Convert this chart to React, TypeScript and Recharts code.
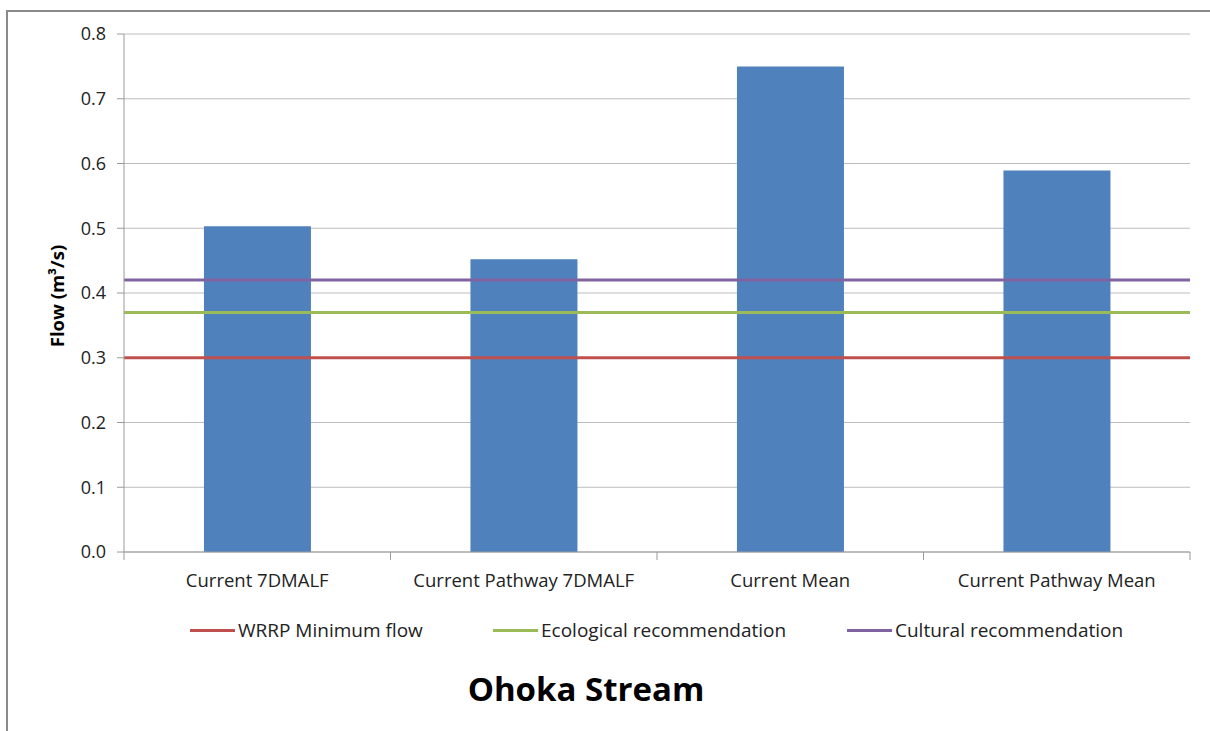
import React from "react";
import { ComposedChart, Bar, XAxis, YAxis, CartesianGrid, ReferenceLine, Label } from "recharts";

const categories = ["Current 7DMALF", "Current Pathway 7DMALF", "Current Mean", "Current Pathway Mean"];
const flows = [0.503, 0.452, 0.75, 0.589];
const yTicks = [0, 0.1, 0.2, 0.3, 0.4, 0.5, 0.6, 0.7, 0.8];

const thresholdNames = ["WRRP Minimum flow", "Ecological recommendation", "Cultural recommendation"];
const thresholdValues = [0.3, 0.37, 0.42];
const thresholdColors = ["#C0504D", "#9BBB59", "#8064A2"];

const data = categories.map((name, i) => ({ name, flow: flows[i] }));

const FONT = "'Open Sans', 'Noto Sans', sans-serif";
const CHART_W = 1210;
const CHART_H = 600;
const MARGIN = { top: 34, right: 20, left: 0, bottom: 0 };
const Y_AXIS_W = 124;
const BAND = (CHART_W - MARGIN.right - Y_AXIS_W) / categories.length;

const CategoryTick = (props: any) => {
  const { x, y, payload, index } = props;
  const last = index === categories.length - 1;
  return (
    <g>
      <line x1={x - BAND / 2} x2={x - BAND / 2} y1={y} y2={y + 8} stroke="#9a9a9a" />
      {last && <line x1={x + BAND / 2} x2={x + BAND / 2} y1={y} y2={y + 8} stroke="#9a9a9a" />}
      <text x={x} y={y + 35} textAnchor="middle" fill="#222" fontSize={18.5} fontFamily={FONT}>
        {payload.value}
      </text>
    </g>
  );
};

const App: React.FC = () => {
  return (
    <div style={{ position: "absolute", left: 0, top: 0, width: 1210, height: 731, overflow: "hidden", background: "#fff" }}>
      <div
        style={{
          position: "absolute",
          left: 6,
          top: 10,
          width: 1220,
          height: 740,
          borderTop: "2px solid #8a8a8a",
          borderLeft: "2px solid #8a8a8a",
        }}
      />
      <div style={{ position: "absolute", left: 0, top: 0 }}>
        <ComposedChart width={CHART_W} height={CHART_H} data={data} margin={MARGIN} barCategoryGap="30%">
          <CartesianGrid vertical={false} stroke="#bdbdbd" />
          <XAxis
            dataKey="name"
            height={48}
            tickSize={0}
            tickMargin={0}
            interval={0}
            stroke="#9a9a9a"
            tick={<CategoryTick />}
          />
          <YAxis
            domain={[0, 0.8]}
            ticks={yTicks}
            width={Y_AXIS_W}
            tickSize={7}
            tickMargin={11}
            stroke="#9a9a9a"
            tickFormatter={(v: number) => v.toFixed(1)}
            tick={{ fill: "#222", fontSize: 18, fontFamily: FONT }}
          >
            <Label
              content={() => (
                <text
                  x={64}
                  y={296}
                  transform="rotate(-90 64 296)"
                  textAnchor="middle"
                  fontSize={18.5}
                  fontWeight="bold"
                  fontFamily={FONT}
                  fill="#000"
                >
                  Flow (m³/s)
                </text>
              )}
            />
          </YAxis>
          <YAxis yAxisId="frame" orientation="right" width={0} tick={false} tickLine={false} stroke="#9a9a9a" domain={[0, 0.8]} />
          <Bar dataKey="flow" fill="#4F81BD" isAnimationActive={false} />
          {thresholdValues.map((v, i) => (
            <ReferenceLine key={thresholdNames[i]} y={v} stroke={thresholdColors[i]} strokeWidth={3} />
          ))}
        </ComposedChart>
      </div>
      <div style={{ position: "absolute", left: 0, top: 617, width: 1210, fontFamily: FONT, fontSize: 19, color: "#222" }}>
        {thresholdNames.map((name, i) => (
          <div
            key={name}
            style={{ position: "absolute", left: [190, 493, 847][i], top: 0, display: "flex", alignItems: "center", whiteSpace: "nowrap" }}
          >
            <span style={{ display: "inline-block", width: 45, height: 3, background: thresholdColors[i], marginRight: 3 }} />
            <span>{name}</span>
          </div>
        ))}
      </div>
      <div
        style={{
          position: "absolute",
          left: 0,
          top: 666,
          width: 1172,
          textAlign: "center",
          fontFamily: FONT,
          fontWeight: "bold",
          fontSize: 33,
          color: "#000",
        }}
      >
        Ohoka Stream
      </div>
    </div>
  );
};

export default App;
